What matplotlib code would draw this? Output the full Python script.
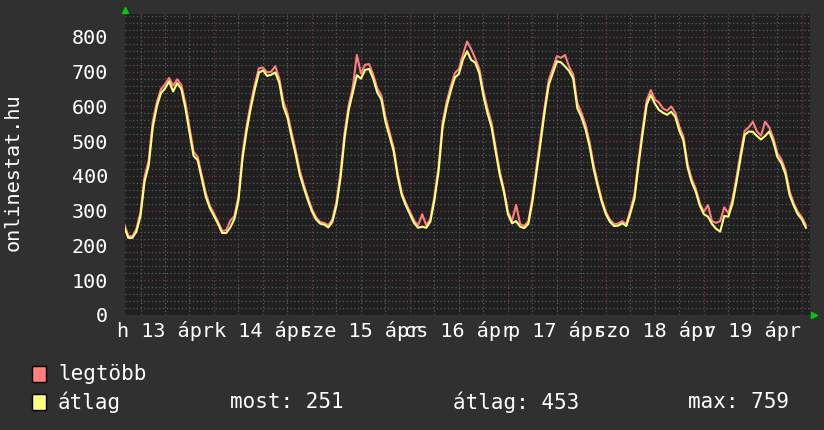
import numpy as np
import matplotlib
matplotlib.use("Agg")
import matplotlib.pyplot as plt
from matplotlib.patches import Rectangle

# hourly samples, hours since Mon 13 Apr 00:00
start_hour = 2
atlag = [254, 222, 222, 240, 285, 385, 430, 540, 600, 638,
         652, 672, 643, 667, 650, 595, 525, 458, 445, 393,
         340, 307, 285, 262, 236, 236, 252, 276, 330, 451,
         530, 595, 650, 697, 704, 688, 691, 698, 668, 600,
         568, 513, 462, 405, 366, 330, 298, 275, 263, 260,
         252, 268, 315, 395, 510, 590, 640, 690, 680, 705,
         708, 680, 640, 620, 556, 514, 472, 398, 345, 315,
         290, 265, 251, 254, 251, 269, 330, 412, 540, 600,
         645, 683, 694, 735, 759, 734, 726, 695, 630, 580,
         540, 470, 403, 355, 290, 264, 270, 254, 250, 262,
         326, 410, 495, 585, 662, 696, 730, 727, 715, 702,
         680, 595, 570, 535, 485, 420, 370, 325, 290, 268,
         256, 257, 264, 256, 293, 335, 432, 522, 605, 633,
         608, 590, 582, 576, 585, 570, 530, 502, 425, 383,
         355, 315, 290, 283, 262, 248, 240, 285, 283, 320,
         383, 452, 518, 528, 527, 515, 505, 515, 528, 499,
         455, 437, 405, 345, 315, 290, 275, 251]
legtobb = [262, 228, 226, 248, 296, 398, 445, 556, 612, 650,
           664, 682, 660, 678, 662, 610, 540, 470, 455, 402,
           350, 314, 292, 268, 242, 244, 272, 284, 342, 466,
           545, 608, 664, 710, 712, 698, 700, 716, 680, 614,
           580, 526, 474, 416, 375, 338, 305, 281, 268, 265,
           258, 276, 326, 410, 525, 604, 655, 748, 695, 720,
           722, 692, 652, 632, 570, 526, 482, 408, 352, 322,
           297, 272, 258, 290, 258, 276, 342, 425, 555, 614,
           658, 696, 708, 750, 787, 765, 738, 708, 644, 594,
           552, 482, 414, 363, 298, 270, 317, 262, 256, 270,
           338, 424, 510, 598, 676, 710, 745, 740, 748, 714,
           692, 610, 582, 548, 498, 432, 380, 332, 297, 274,
           262, 263, 270, 262, 302, 346, 446, 536, 618, 647,
           620, 611, 594, 588, 600, 582, 542, 512, 436, 392,
           364, 322, 297, 316, 270, 265, 270, 310, 292, 332,
           396, 466, 530, 540, 556, 528, 516, 556, 540, 510,
           466, 448, 416, 356, 322, 297, 282, 258]
day_labels = ["h 13 ápr", "k 14 ápr", "sze 15 ápr", "cs 16 ápr",
              "p 17 ápr", "szo 18 ápr", "v 19 ápr"]
legend_names = ["legtöbb", "átlag"]
stats = ["most: 251", "átlag: 453", "max: 759"]
y_label = "onlinestat.hu"

hours = start_hour + np.arange(len(atlag))

BG = "#303030"
PLOT_BG = "#202020"
RED = "#ff7f7f"
YEL = "#ffff80"
GRID_MINOR = "#5a5a5a"
GRID_MAJOR = "#7a3a3a"
FONT = "DejaVu Sans Mono"

W, H = 824, 430
fig = plt.figure(figsize=(W / 100, H / 100), dpi=100, facecolor=BG)
L, R, T, B = 125, 810, 14, 315
ax = fig.add_axes([L / W, (H - B) / H, (R - L) / W, (B - T) / H])
ax.set_facecolor(PLOT_BG)
for s in ax.spines.values():
    s.set_visible(False)

xmin, xmax = 2.2, 170.0
ymin, ymax = 0, 866
ax.set_xlim(xmin, xmax)
ax.set_ylim(ymin, ymax)

dots = (0, (1, 2))
for yv in range(0, 861, 20):
    ax.axhline(yv, color=GRID_MAJOR if yv % 100 == 0 else GRID_MINOR,
               lw=0.9, ls=dots, zorder=0)
for xv in range(0, 171, 6):
    if xv < xmin:
        continue
    ax.axvline(xv, color=GRID_MAJOR if xv % 24 == 0 else GRID_MINOR,
               lw=0.9, ls=dots, zorder=0)

ax.plot(hours, legtobb, color=RED, lw=1.5, zorder=3)
ax.plot(hours, atlag, color=YEL, lw=1.5, zorder=4)

ax.set_yticks(range(0, 801, 100))
ax.set_yticklabels([str(v) for v in range(0, 801, 100)])
ax.set_xticks([12 + 24 * i for i in range(len(day_labels))])
ax.set_xticklabels(day_labels)
ax.tick_params(axis="y", length=0, pad=12, labelsize=14.5, labelcolor="white")
ax.tick_params(axis="x", length=0, pad=4, labelsize=14.5, labelcolor="white")
for lab in ax.get_xticklabels() + ax.get_yticklabels():
    lab.set_family(FONT)

# green axis arrows
ax.plot([0], [1 + 4 / (B - T)], marker="^", color="#00cc00", ms=5,
        transform=ax.transAxes, clip_on=False, zorder=5)
ax.plot([1 + 4 / (R - L)], [0], marker=">", color="#00cc00", ms=5,
        transform=ax.transAxes, clip_on=False, zorder=5)

fig.text(13 / W, 1 - 172 / H, y_label, rotation=90, ha="center", va="center",
         color="white", family=FONT, fontsize=14.5)

# legend
for i, (name, col) in enumerate(zip(legend_names, [RED, YEL])):
    yc = 374 + 28 * i
    fig.add_artist(Rectangle((32 / W, 1 - (yc + 8) / H), 14 / W, 16 / H,
                             transform=fig.transFigure, facecolor=col,
                             edgecolor="black", lw=1))
    fig.text(58 / W, 1 - yc / H, name, ha="left", va="center",
             color="white", family=FONT, fontsize=15)
for txt, xs in zip(stats, [230, 453, 688]):
    fig.text(xs / W, 1 - 402 / H, txt, ha="left", va="center",
             color="white", family=FONT, fontsize=15)

fig.savefig("out.png", dpi=100, facecolor=BG)
